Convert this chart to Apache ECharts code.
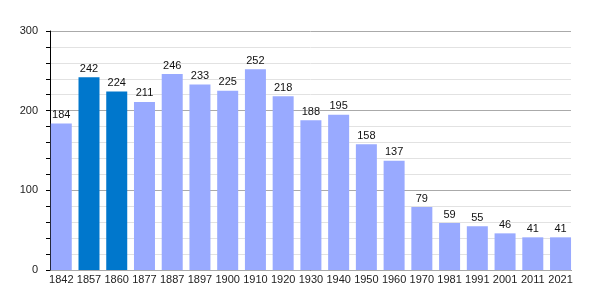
<!DOCTYPE html>
<html><head><meta charset="utf-8">
<script src="https://cdn.jsdelivr.net/npm/echarts@6/dist/echarts.min.js"></script>
<style>html,body{margin:0;padding:0;background:#fff}#c{width:600px;height:300px}</style>
</head><body><div id="c"></div>
<script>
const years = ['1842','1857','1860','1877','1887','1897','1900','1910','1920','1930','1940','1950','1960','1970','1981','1991','2001','2011','2021'];
const population = [184,242,224,211,246,233,225,252,218,188,195,158,137,79,59,55,46,41,41];
const highlightYears = ['1857','1860'];
const yTicks = [0,100,200,300];

const lightColor = '#99aaff';
const darkColor = '#0077cc';
const font = 'Liberation Sans, Arial, sans-serif';

const chart = echarts.init(document.getElementById('c'), null, {renderer:'canvas'});
chart.setOption({
  animation: false,
  backgroundColor: '#fff',
  grid: [
    {left: 50, right: 29, top: 31, bottom: 30},
    {left: 47.4, right: 25.6, top: 31, bottom: 30}
  ],
  xAxis: [
    {gridIndex: 0, type: 'value', min: 0, max: 1, axisLine: {show: true, lineStyle: {color: '#000', width: 1}},
     axisTick: {show: false}, axisLabel: {show: false}, splitLine: {show: false}},
    {gridIndex: 1, type: 'category', data: years, axisLine: {show: false}, axisTick: {show: false},
     axisLabel: {color: '#222', fontSize: 11, fontFamily: font, margin: 4, interval: 0}}
  ],
  yAxis: [
    {gridIndex: 0, type: 'value', min: yTicks[0], max: yTicks[yTicks.length-1], interval: 100,
     axisLine: {show: true, lineStyle: {color: '#000', width: 1}},
     axisTick: {show: true, length: 4, lineStyle: {color: '#000'}},
     minorTick: {show: true, splitNumber: 5, length: 4, lineStyle: {color: '#000'}},
     axisLabel: {color: '#222', fontSize: 11, fontFamily: font, margin: 12},
     splitLine: {show: true, lineStyle: {color: '#aaaaaa', width: 1}},
     minorSplitLine: {show: true, lineStyle: {color: '#e2e2e2', width: 1}},
     z: 1},
    {gridIndex: 1, type: 'value', min: yTicks[0], max: yTicks[yTicks.length-1], show: false, splitLine: {show: false}}
  ],
  series: [{
    type: 'bar', xAxisIndex: 1, yAxisIndex: 1,
    barWidth: 21,
    data: population.map((v, i) => ({value: v, itemStyle: {color: highlightYears.includes(years[i]) ? darkColor : lightColor}})),
    label: {show: true, position: 'top', distance: 3, color: '#111', fontSize: 11, fontFamily: font},
    z: 3
  }]
});
</script></body></html>
